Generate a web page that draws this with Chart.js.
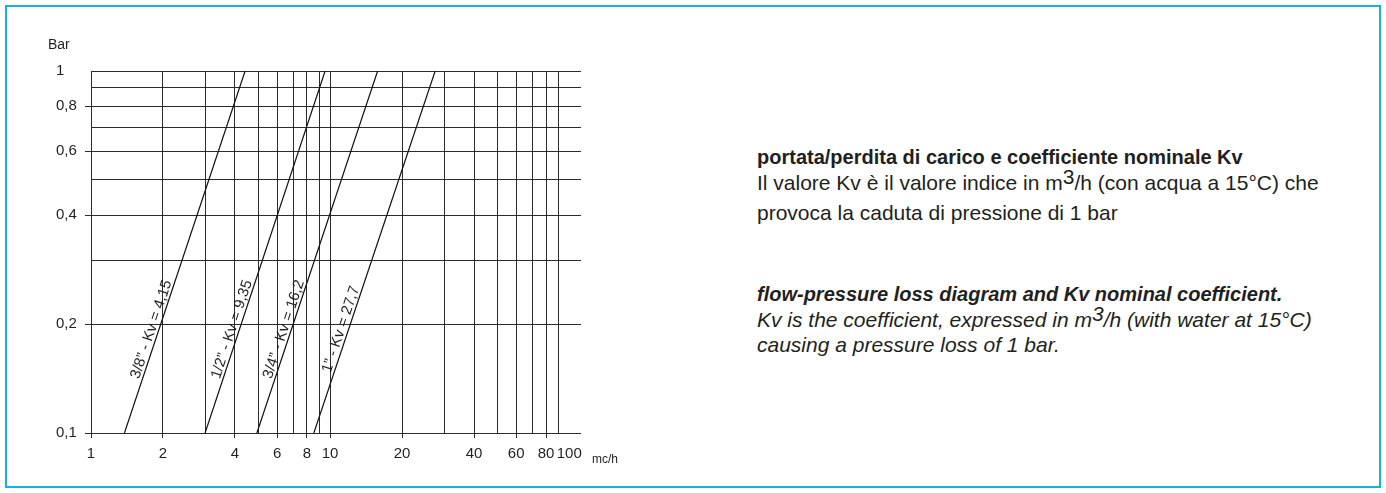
<!DOCTYPE html>
<html>
<head>
<meta charset="utf-8">
<script src="https://cdn.jsdelivr.net/npm/chart.js@4/dist/chart.umd.min.js"></script>
<style>
  body { margin: 0; background: #fff; width: 1386px; height: 493px; overflow: hidden; position: relative; font-family: "Liberation Sans", Arial, Helvetica, sans-serif; color: #231f20; }
  #frame { position: absolute; left: 5px; top: 5px; width: 1376px; height: 483px; box-sizing: border-box; border: 2px solid #17aee9; }
  #chart { position: absolute; left: 0; top: 0; }
  .ln { position: absolute; left: 757px; white-space: nowrap; font-size: 21px; line-height: 25px; }
  .ln.head { font-size: 20px; font-weight: bold; }
  .ln.en { font-style: italic; }
  .ln sup { font-size: 21px; line-height: 0; vertical-align: 6px; }
</style>
</head>
<body>
<div id="frame"></div>
<canvas id="chart" width="700" height="493"></canvas>

<div class="ln head" style="top:145px">portata/perdita di carico e coefficiente nominale Kv</div>
<div class="ln" style="top:170px">Il valore Kv è il valore indice in m<sup>3</sup>/h (con acqua a 15°C) che</div>
<div class="ln" style="top:200px">provoca la caduta di pressione di 1 bar</div>

<div class="ln head en" style="top:282px">flow-pressure loss diagram and Kv nominal coefficient.</div>
<div class="ln en" style="top:307px">Kv is the coefficient, expressed in m<sup>3</sup>/h (with water at 15°C)</div>
<div class="ln en" style="top:332px">causing a pressure loss of 1 bar.</div>

<script>
// valve sizes and nominal Kv as printed on the lines
const sizes = ['3/8”', '1/2”', '3/4”', '1”'];
const kvText = ['4,15', '9,35', '16,2', '27,7'];
// flow (mc/h) where each line meets 0,1 bar and 1 bar
const flowAtLow = [1.38, 3.0, 4.94, 8.55];
const flowAtHigh = [4.41, 9.53, 15.8, 27.5];
const pressureEnds = [0.1, 1];

// grid and tick labels
const xGrid = [1, 2, 3, 4, 5, 6, 7, 8, 9, 10, 20, 30, 40, 50, 60, 70, 80, 90, 100];
const xLabeled = [1, 2, 4, 6, 8, 10, 20, 40, 60, 80, 100];
const yGrid = [0.1, 0.2, 0.3, 0.4, 0.5, 0.6, 0.7, 0.8, 0.9, 1];
const yLabeled = [0.1, 0.2, 0.4, 0.6, 0.8, 1];

const INK = '#2b2b2b';
const FONT = '"Liberation Sans", Arial, Helvetica, sans-serif';

const isX = (v, list) => list.some((l) => Math.abs(l - v) < 1e-9);

const lineLabels = {
  id: 'lineLabels',
  afterDatasetsDraw(chart) {
    const { ctx, scales: { x, y } } = chart;
    ctx.save();
    ctx.font = '15px ' + FONT;
    ctx.fillStyle = '#231f20';
    ctx.textAlign = 'center';
    ctx.textBaseline = 'alphabetic';
    sizes.forEach((size, i) => {
      const ax = x.getPixelForValue(flowAtLow[i]);
      const ay = y.getPixelForValue(pressureEnds[0]);
      const bx = x.getPixelForValue(flowAtHigh[i]);
      const by = y.getPixelForValue(pressureEnds[1]);
      const t = 0.28;
      const angle = Math.atan2(by - ay, bx - ax);
      ctx.save();
      ctx.translate(ax + (bx - ax) * t, ay + (by - ay) * t);
      ctx.rotate(angle);
      ctx.fillText(size + ' - Kv = ' + kvText[i], 0, -3);
      ctx.restore();
    });

    // axis captions
    ctx.textAlign = 'left';
    ctx.textBaseline = 'middle';
    ctx.font = '14px ' + FONT;
    ctx.fillText('Bar', 48, 45);
    ctx.font = '12px ' + FONT;
    ctx.fillText('mc/h', 592, 460);
    ctx.restore();
  }
};

new Chart(document.getElementById('chart'), {
  type: 'line',
  data: {
    datasets: sizes.map((size, i) => ({
      label: size,
      data: [
        { x: flowAtLow[i], y: pressureEnds[0] },
        { x: flowAtHigh[i], y: pressureEnds[1] }
      ],
      borderColor: '#111',
      borderWidth: 1.2,
      pointRadius: 0,
      fill: false,
      tension: 0
    }))
  },
  options: {
    responsive: false,
    animation: false,
    devicePixelRatio: 1,
    layout: { padding: { left: 56, top: 71, right: 119, bottom: 0 } },
    plugins: { legend: { display: false }, tooltip: { enabled: false } },
    scales: {
      x: {
        type: 'logarithmic',
        min: 1,
        max: 112,
        afterBuildTicks: (scale) => { scale.ticks = xGrid.map((v) => ({ value: v })); },
        afterFit: (scale) => { scale.height = 60; },
        border: { display: false },
        grid: {
          color: (c) => (c.tick && c.tick.value === 100 ? 'rgba(0,0,0,0)' : INK),
          tickColor: (c) => (c.tick && isX(c.tick.value, xLabeled) && c.tick.value !== 100 ? INK : 'rgba(0,0,0,0)'),
          lineWidth: 1,
          tickLength: 5
        },
        ticks: {
          autoSkip: false,
          maxRotation: 0,
          padding: 7,
          color: '#231f20',
          font: { family: FONT, size: 15 },
          callback: (v) => (isX(v, xLabeled) ? String(v) : '')
        }
      },
      y: {
        type: 'logarithmic',
        min: 0.1,
        max: 1,
        afterBuildTicks: (scale) => { scale.ticks = yGrid.map((v) => ({ value: v })); },
        afterFit: (scale) => { scale.width = 35; },
        border: { display: false },
        grid: {
          color: INK,
          tickColor: (c) => (c.tick && isX(c.tick.value, yLabeled) && c.tick.value !== 1 ? INK : 'rgba(0,0,0,0)'),
          lineWidth: 1,
          tickLength: 6
        },
        ticks: {
          autoSkip: false,
          crossAlign: 'far',
          color: '#231f20',
          font: { family: FONT, size: 15 },
          callback: (v) => (isX(v, yLabeled) ? String(v).replace('.', ',') : '')
        }
      }
    }
  },
  plugins: [lineLabels]
});
</script>
</body>
</html>
